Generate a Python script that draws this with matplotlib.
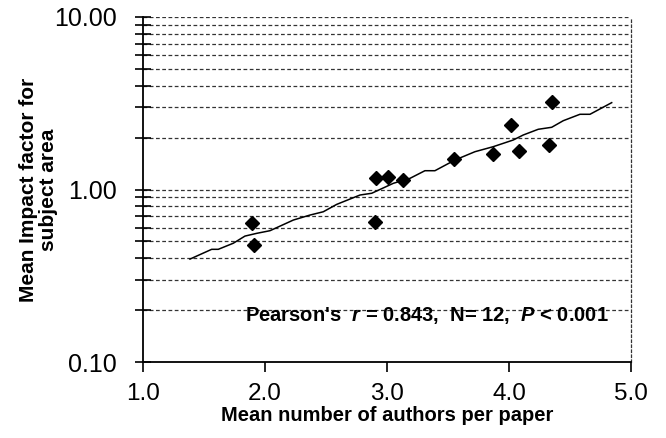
import numpy as np
import matplotlib
matplotlib.use("Agg")
import matplotlib.pyplot as plt
from matplotlib.ticker import FixedLocator, FixedFormatter, NullFormatter

plt.rcParams['font.family'] = ['Liberation Sans', 'DejaVu Sans']
plt.rcParams['mathtext.fontset'] = 'custom'
plt.rcParams['mathtext.rm'] = 'Liberation Sans:bold'
plt.rcParams['mathtext.it'] = 'Liberation Sans:bold:italic'

# subject areas: mean authors per paper vs mean impact factor
authors = [4.35, 4.02, 4.33, 4.08, 3.87, 3.55, 2.91, 3.01, 3.13, 1.89, 1.91, 2.90]
impact = [3.23, 2.37, 1.80, 1.67, 1.60, 1.50, 1.17, 1.18, 1.14, 0.642, 0.475, 0.650]

# trend line as drawn in the figure
trend_x = [1.385, 1.563, 1.617, 1.740, 1.836, 1.932, 2.041, 2.232, 2.369, 2.478,
           2.588, 2.779, 2.875, 3.052, 3.189, 3.311, 3.393, 3.557, 3.721, 3.871,
           4.035, 4.117, 4.240, 4.350, 4.445, 4.582, 4.664, 4.719, 4.842]
trend_y = [0.395, 0.450, 0.450, 0.488, 0.537, 0.557, 0.577, 0.665, 0.711, 0.743,
           0.820, 0.929, 0.951, 1.086, 1.161, 1.285, 1.285, 1.482, 1.656, 1.771,
           1.936, 2.070, 2.234, 2.294, 2.505, 2.729, 2.729, 2.863, 3.187]

x_ticks = [1.0, 2.0, 3.0, 4.0, 5.0]
y_major = [0.1, 1.0, 10.0]
y_major_labels = ['0.10', '1.00', '10.00']
y_minor = [m * d for d in (0.1, 1.0) for m in range(2, 10)]

fig = plt.figure(figsize=(6.66, 4.38), dpi=100)
ax = fig.add_axes([0.2147, 0.1735, 0.7327, 0.7877])
ax.set_yscale('log')
ax.set_xlim(1.0, 5.0)
ax.set_ylim(0.1, 10.0)

# dashed grid lines at every y tick above the bottom axis
for v in y_minor + [1.0, 10.0]:
    ax.axhline(v, color='#333333', lw=0.9, ls=(0, (3, 2)), zorder=1)

ax.plot(trend_x, trend_y, color='black', lw=1.1, zorder=2)
ax.plot(authors, impact, ls='none', marker='D', ms=7.5, color='black', zorder=3)

ax.spines['top'].set_visible(False)
ax.spines['right'].set_linestyle((0, (2, 2)))
ax.spines['right'].set_linewidth(0.9)
ax.spines['right'].set_color('#333333')
ax.spines['left'].set_linewidth(1.3)
ax.spines['bottom'].set_linewidth(1.3)

ax.xaxis.set_major_locator(FixedLocator(x_ticks))
ax.xaxis.set_major_formatter(FixedFormatter(['%.1f' % v for v in x_ticks]))
ax.yaxis.set_major_locator(FixedLocator(y_major))
ax.yaxis.set_major_formatter(FixedFormatter(y_major_labels))
ax.yaxis.set_minor_locator(FixedLocator(y_minor))
ax.yaxis.set_minor_formatter(NullFormatter())

ax.tick_params(axis='x', direction='out', length=7, width=1.2, labelsize=17.5, pad=8)
ax.tick_params(axis='y', which='both', direction='inout', length=12, width=1.2,
               labelsize=18, pad=13)

ax.set_xlabel('Mean number of authors per paper', fontsize=14.5, fontweight='bold',
              labelpad=0.5)
ax.set_ylabel('Mean Impact factor for\nsubject area', fontsize=15, fontweight='bold',
              labelpad=-3, linespacing=1.1)

ax.text(0.582, 0.136, "Pearson's  $r$ = 0.843,  N= 12,  $P$ < 0.001",
        transform=ax.transAxes, ha='center', va='center', fontsize=14.5,
        fontweight='bold')

fig.savefig('out.png', dpi=100)
